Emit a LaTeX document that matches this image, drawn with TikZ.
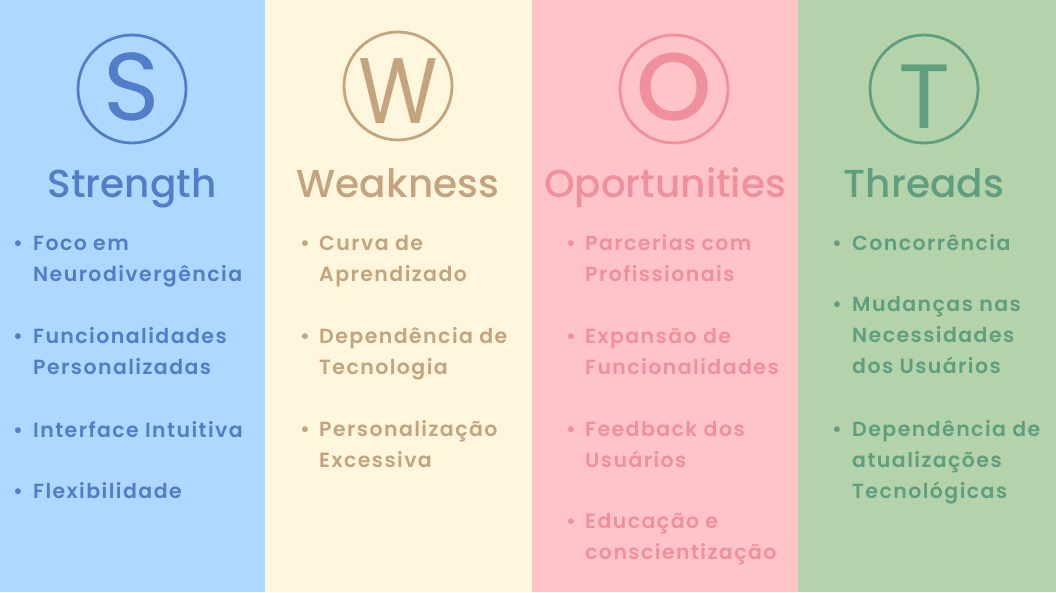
\documentclass[tikz,border=0pt]{standalone}
\usepackage{fontspec}
\setmainfont{Poppins}
\newfontfamily\pmed{Poppins Medium}
\newfontfamily\psemi{Poppins SemiBold}[LetterSpace=7]
\definecolor{bgS}{HTML}{AED8FF}
\definecolor{fgS}{HTML}{527DC8}
\definecolor{bgW}{HTML}{FFF7DD}
\definecolor{fgW}{HTML}{C4A47E}
\definecolor{bgO}{HTML}{FFC4C8}
\definecolor{fgO}{HTML}{F0909F}
\definecolor{bgT}{HTML}{B5D3AB}
\definecolor{fgT}{HTML}{5F9F7F}
\tikzset{
  ring/.style={circle, draw, line width=2.8pt, minimum size=108pt, inner sep=0pt},
  bigletter/.style={inner sep=0pt, font=\fontsize{96}{100}\selectfont},
  title/.style={anchor=base, inner sep=0pt, font=\fontsize{39}{44}\selectfont\pmed},
  itemline/.style={anchor=base west, inner sep=0pt, font=\fontsize{20.5}{24}\selectfont\psemi},
  dot/.style={anchor=base, inner sep=0pt, font=\fontsize{20.5}{24}\selectfont\psemi},
}
\begin{document}
\begin{tikzpicture}[x=1pt,y=-1pt]
\useasboundingbox (0,0) rectangle (1056,592);
\fill[bgS] (0,0) rectangle (265,592);
\fill[bgW] (265,0) rectangle (532,592);
\fill[bgO] (532,0) rectangle (798,592);
\fill[bgT] (798,0) rectangle (1056,592);

% S column
\begin{scope}[color=fgS, text=fgS]
\node[ring] (cS) at (132,89) {};
\node[bigletter] (lS) at ([yshift=2pt]cS.center) {S};
\node[title] (tS) at (132,197) {Strength};
\node[dot] (bS1) at (18,250) {•};
\node[itemline] (s1a) at (33,250) {Foco em};
\node[itemline] (s1b) at (33,281) {Neurodivergência};
\node[dot] (bS2) at (18,343) {•};
\node[itemline] (s2a) at (33,343) {Funcionalidades};
\node[itemline] (s2b) at (33,374) {Personalizadas};
\node[dot] (bS3) at (18,437) {•};
\node[itemline] (s3a) at (33,437) {Interface Intuitiva};
\node[dot] (bS4) at (18,498) {•};
\node[itemline] (s4a) at (33,498) {Flexibilidade};
\end{scope}

% W column
\begin{scope}[color=fgW, text=fgW]
\node[ring] (cW) at (398,86) {};
\node[bigletter, xscale=0.85, yscale=0.97] (lW) at ([yshift=-5pt]cW.center) {W};
\node[title] (tW) at (398,197) {Weakness};
\node[dot] (bW1) at (305,250) {•};
\node[itemline] (w1a) at (319,250) {Curva de};
\node[itemline] (w1b) at (319,281) {Aprendizado};
\node[dot] (bW2) at (305,343) {•};
\node[itemline] (w2a) at (319,343) {Dependência de};
\node[itemline] (w2b) at (319,374) {Tecnologia};
\node[dot] (bW3) at (305,436) {•};
\node[itemline] (w3a) at (319,436) {Personalização};
\node[itemline] (w3b) at (319,467) {Excessiva};
\end{scope}

% O column
\begin{scope}[color=fgO, text=fgO]
\node[ring] (cO) at (674,89) {};
\node[bigletter, font=\fontsize{96}{100}\selectfont\pmed] (lO) at ([yshift=1.5pt]cO.center) {O};
\node[title] (tO) at (665,197) {Oportunities};
\node[dot] (bO1) at (571,250) {•};
\node[itemline] (o1a) at (585,250) {Parcerias com};
\node[itemline] (o1b) at (585,281) {Profissionais};
\node[dot] (bO2) at (571,343) {•};
\node[itemline] (o2a) at (585,343) {Expansão de};
\node[itemline] (o2b) at (585,374) {Funcionalidades};
\node[dot] (bO3) at (571,436) {•};
\node[itemline] (o3a) at (585,436) {Feedback dos};
\node[itemline] (o3b) at (585,467) {Usuários};
\node[dot] (bO4) at (571,528) {•};
\node[itemline] (o4a) at (585,528) {Educação e};
\node[itemline] (o4b) at (585,559) {conscientização};
\end{scope}

% T column
\begin{scope}[color=fgT, text=fgT]
\node[ring] (cT) at (924,89) {};
\node[bigletter, yscale=0.95] (lT) at ([yshift=-8pt]cT.center) {T};
\node[title] (tT) at (924,197) {Threads};
\node[dot] (bT1) at (837,250) {•};
\node[itemline] (t1a) at (852,250) {Concorrência};
\node[dot] (bT2) at (837,311) {•};
\node[itemline] (t2a) at (852,311) {Mudanças nas};
\node[itemline] (t2b) at (852,342) {Necessidades};
\node[itemline] (t2c) at (852,373) {dos Usuários};
\node[dot] (bT3) at (837,436) {•};
\node[itemline] (t3a) at (852,436) {Dependência de};
\node[itemline] (t3b) at (852,467) {atualizações};
\node[itemline] (t3c) at (852,498) {Tecnológicas};
\end{scope}
\end{tikzpicture}
\end{document}
